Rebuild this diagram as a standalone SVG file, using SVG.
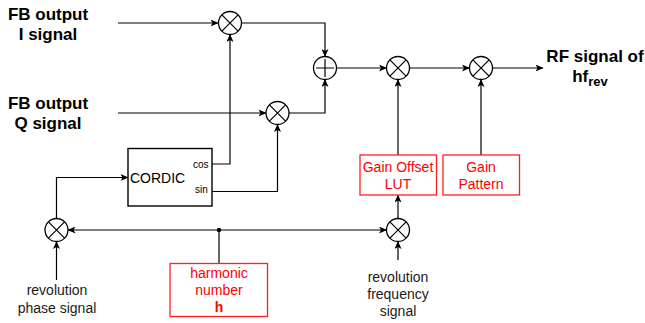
<svg xmlns="http://www.w3.org/2000/svg" width="645" height="323" viewBox="0 0 645 323">
<style>
.ln{fill:none;stroke:#000;stroke-width:1.2}
.op{fill:#fff;stroke:#000;stroke-width:1.3}
.sym{stroke:#000;stroke-width:1.2}
.rbox{fill:#fff;stroke:#ff2020;stroke-width:1.3}
.bl{font-family:"Liberation Sans",Arial,sans-serif;font-weight:bold;font-size:17px;fill:#000;text-anchor:middle}
.rt{font-family:"Liberation Sans",Arial,sans-serif;font-size:14px;fill:#ff0000;text-anchor:middle}
.gt{font-family:"Liberation Sans",Arial,sans-serif;font-size:14px;fill:#1a1a1a;text-anchor:middle}
.sm{font-family:"Liberation Sans",Arial,sans-serif;font-size:10px;fill:#000}
</style>
<defs>
<marker id="ar" viewBox="0 0 8 7" refX="7.5" refY="3.5" markerWidth="8" markerHeight="7" markerUnits="userSpaceOnUse" orient="auto-start-reverse">
<path d="M0,0 L8,3.5 L0,7 L2,3.5 z" fill="#000"/>
</marker>
<g id="mul"><circle r="11.5" class="op"/><path d="M-8.1,-8.1 L8.1,8.1 M-8.1,8.1 L8.1,-8.1" class="sym"/></g>
</defs>
<rect width="645" height="323" fill="#fff"/>
<g id="connectors">
<path d="M118,23 H218" class="ln" marker-end="url(#ar)"/>
<path d="M118,113 H266" class="ln" marker-end="url(#ar)"/>
<path d="M241.5,23 H325 V56.5" class="ln" marker-end="url(#ar)"/>
<path d="M289,113 H325 V79.5" class="ln" marker-end="url(#ar)"/>
<path d="M336.5,68 H386.5" class="ln" marker-end="url(#ar)"/>
<path d="M409.5,68 H469.5" class="ln" marker-end="url(#ar)"/>
<path d="M492.5,68 H543" class="ln" marker-end="url(#ar)"/>
<path d="M398,155 V79.5" class="ln" marker-end="url(#ar)"/>
<path d="M481,155 V79.5" class="ln" stroke="#444" marker-end="url(#ar)"/>
<path d="M212,164 H230 V34.5" class="ln" marker-end="url(#ar)"/>
<path d="M212,191.5 H277.5 V124.5" class="ln" marker-end="url(#ar)"/>
<path d="M56.5,218.5 V177.5 H128" class="ln" marker-end="url(#ar)"/>
<path d="M56.5,280 V241.5" class="ln" marker-end="url(#ar)"/>
<path d="M68,230 H386.5" class="ln" marker-start="url(#ar)" marker-end="url(#ar)"/>
<path d="M219,263 V230" class="ln"/>
<circle cx="219" cy="230" r="2.2" fill="#000"/>
<path d="M398,260 V241.5" class="ln" marker-end="url(#ar)"/>
<path d="M398,218.5 V195" class="ln" marker-end="url(#ar)"/>
</g>
<g id="label-fb-i"><text class="bl" x="48" y="19.5">FB output</text><text class="bl" x="48" y="39.5">I signal</text></g>
<g id="label-fb-q"><text class="bl" x="48" y="108.5">FB output</text><text class="bl" x="48" y="128.5">Q signal</text></g>
<g id="label-rf"><text class="bl" x="595" y="62">RF signal of</text><text class="bl" x="590" y="82">hf<tspan font-size="13" dy="4">rev</tspan></text></g>
<g id="mult-i"><use href="#mul" x="230" y="23"/></g>
<g id="mult-q"><use href="#mul" x="277.5" y="113"/></g>
<g id="adder"><circle cx="325" cy="68" r="11.5" class="op"/><path d="M316,68 H334 M325,59 V77" class="sym"/></g>
<g id="mult-gain"><use href="#mul" x="398" y="68"/></g>
<g id="mult-pattern"><use href="#mul" x="481" y="68"/></g>
<g id="mult-phase"><use href="#mul" x="56.5" y="230"/></g>
<g id="mult-freq"><use href="#mul" x="398" y="230"/></g>
<g id="cordic"><rect x="128" y="148.5" width="84" height="57.5" fill="#fff" stroke="#000" stroke-width="1.4"/>
<text x="130" y="183" font-family="'Liberation Sans',Arial,sans-serif" font-size="14" fill="#000">CORDIC</text>
<text class="sm" x="193" y="168">cos</text><text class="sm" x="195" y="193">sin</text></g>
<g id="gain-offset-lut"><rect x="360" y="155" width="76.5" height="40" class="rbox"/><text class="rt" x="398" y="172">Gain Offset</text><text class="rt" x="398" y="189">LUT</text></g>
<g id="gain-pattern"><rect x="443" y="155" width="76.5" height="40" class="rbox"/><text class="rt" x="481" y="172">Gain</text><text class="rt" x="481" y="189">Pattern</text></g>
<g id="harmonic-number"><rect x="170" y="263.5" width="97.5" height="53" class="rbox"/><text class="rt" x="219" y="277.5">harmonic</text><text class="rt" x="219" y="294.5">number</text><text class="rt" x="219" y="312" font-weight="bold">h</text></g>
<g id="label-phase"><text class="gt" x="57" y="295">revolution</text><text class="gt" x="57" y="312.5">phase signal</text></g>
<g id="label-freq"><text class="gt" x="398" y="282">revolution</text><text class="gt" x="398" y="299">frequency</text><text class="gt" x="398" y="315.5">signal</text></g>
</svg>
